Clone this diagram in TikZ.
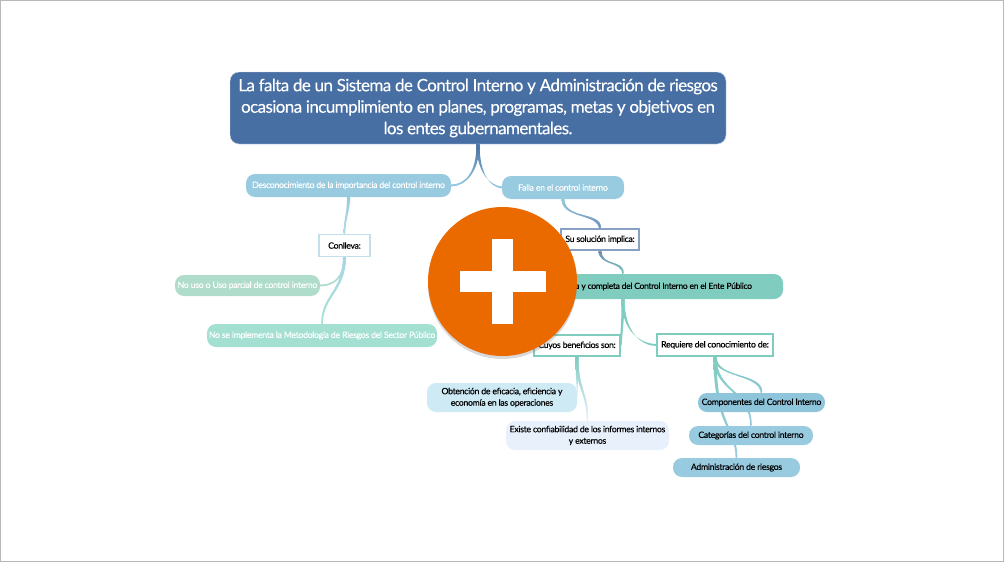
\documentclass[tikz,border=0pt]{standalone}
\usepackage{fontspec}
\setmainfont{Lato}[LetterSpace=-3.5, FakeBold=0.2]
\usetikzlibrary{calc, backgrounds, shadows}
\definecolor{titleblue}{HTML}{476FA3}
\definecolor{skyblue}{HTML}{98CBE0}
\definecolor{deepsky}{HTML}{8FC5DA}
\definecolor{paleblue}{HTML}{CEEAF5}
\definecolor{iceblue}{HTML}{E8F0FC}
\definecolor{sage}{HTML}{B0DCCB}
\definecolor{mint}{HTML}{A3E0D2}
\definecolor{teal}{HTML}{80CCBE}
\definecolor{plusorange}{HTML}{EB6A00}
\tikzset{
  pill/.style={inner sep=0pt, align=center, rounded corners=9pt, font=\fontsize{8.7}{11.5}\selectfont},
  whitepill/.style={pill, text=white},
  labelbox/.style={draw, fill=white, line width=1.3pt, inner sep=0pt, font=\fontsize{8.7}{11}\selectfont},
  branch/.style={draw=none}
}
% tapered connector: from, control offset, control offset, to, end thickness, colours
\newcommand{\branch}[7]{%
  \draw[branch, top color=#6, bottom color=#7]
    ($(#1)+(-1.6,0)$) .. controls ($(#1)+#2+(-1.3,0)$) and ($(#4)+#3-#5$) .. ($(#4)-#5$)
    -- ($(#4)+#5$) .. controls ($(#4)+#3+#5$) and ($(#1)+#2+(1.3,0)$) .. ($(#1)+(1.6,0)$) -- cycle;
}
\begin{document}
\begin{tikzpicture}[x=1pt, y=-1pt]
  \useasboundingbox (0,0) rectangle (1004,562);
  \draw[black!28, line width=1pt] (0.5,0.5) rectangle (1003.5,561.5);

  \node[pill, fill=titleblue, draw=titleblue!25, text=white, minimum width=496pt, minimum height=72pt,
    font=\fontsize{17}{21.5}\selectfont] (title) at (478,108)
    {La falta de un Sistema de Control Interno y Administración de riesgos\\
     ocasiona incumplimiento en planes, programas, metas y objetivos en\\
     los entes gubernamentales.};

  \node[whitepill, fill=skyblue, minimum width=205pt, minimum height=23pt] (desconocimiento) at (348.5,185.5)
    {Desconocimiento de la importancia del control interno};
  \node[whitepill, fill=skyblue, minimum width=122pt, minimum height=23pt] (falla) at (563,187.5)
    {Falla en el control interno};
  \node[labelbox, draw=skyblue!60, minimum width=51pt, minimum height=22pt] (conlleva) at (344.5,245.5) {Conlleva:};
  \node[whitepill, fill=sage, minimum width=145pt, minimum height=21pt] (nouso) at (247.5,285.5)
    {No uso o Uso parcial de control interno};
  \node[whitepill, fill=mint, minimum width=230pt, minimum height=23pt] (noimplementa) at (322,335.5)
    {No se implementa la Metodología de Riesgos del Sector Público};

  \node[labelbox, draw=titleblue!65, minimum width=78pt, minimum height=21pt] (solucion) at (600,239.5) {Su solución implica:};
  \node[pill, fill=teal, minimum height=25pt, inner xsep=31pt, text width=258pt, align=flush right,
    font=\fontsize{8.5}{11}\selectfont] (ente) at (623,286.5)
    {a y completa del Control Interno en el Ente Público};
  \node[labelbox, draw=teal, minimum width=86pt, minimum height=21pt] (beneficios) at (577,345.5) {Cuyos beneficios son:};
  \node[labelbox, draw=teal, minimum width=116pt, minimum height=22pt] (requiere) at (715,345) {Requiere del conocimiento de:};

  \node[pill, fill=paleblue, minimum width=150pt, minimum height=29pt] (eficacia) at (502,397.5)
    {Obtención de eficacia, eficiencia y\\economía en las operaciones};
  \node[pill, fill=iceblue, minimum width=163pt, minimum height=29pt] (confiabilidad) at (587.5,435.5)
    {Existe confiabilidad de los informes internos\\y externos};
  \node[pill, fill=deepsky, minimum width=127pt, minimum height=19pt] (componentes) at (761.5,402.5)
    {Componentes del Control Interno};
  \node[pill, fill=skyblue, minimum width=124pt, minimum height=19pt] (categorias) at (751,435.5)
    {Categorías del control interno};
  \node[pill, fill=skyblue, minimum width=127pt, minimum height=19pt] (riesgos) at (736.5,467.5)
    {Administración de riesgos};

  \begin{scope}[on background layer]
    \branch{title.south}{(0,28)}{(14,0)}{desconocimiento.east}{(0,1)}{titleblue}{skyblue}
    \branch{title.south}{(0,28)}{(-12,-1)}{falla.west}{(0,1)}{titleblue}{skyblue}
    \branch{desconocimiento.south}{(0,16)}{(0,-16)}{conlleva.north}{(0.9,0)}{skyblue}{skyblue!70}
    \branch{conlleva.south}{(0,22)}{(12,0)}{nouso.east}{(0,1)}{skyblue!80}{sage}
    \branch{conlleva.south}{(0,34)}{(0,-28)}{noimplementa.north}{(0.8,0.6)}{skyblue!80}{mint}
    \branch{falla.south}{(0,20)}{(0,-16)}{solucion.north}{(1,-1)}{skyblue}{titleblue!80}
    \branch{solucion.south}{(0,16)}{(0,-14)}{ente.north}{(0.8,-0.8)}{titleblue!80}{teal}
    \branch{ente.south}{(0,20)}{(1,-16)}{beneficios.east}{(1,0)}{teal}{teal}
    \branch{ente.south}{(0,34)}{(-14,0)}{requiere.west}{(0,1)}{teal}{teal}
    \branch{beneficios.south}{(0,24)}{(0,-8)}{eficacia.east}{(0,0.9)}{teal}{paleblue}
    \branch{beneficios.south}{(0,34)}{(0,-30)}{confiabilidad.north}{(0.8,-0.3)}{teal}{iceblue}
    \branch{requiere.south}{(0,22)}{(0,-20)}{componentes.north}{(0.8,-0.8)}{teal}{deepsky}
    \branch{requiere.south}{(0,36)}{(0,-36)}{categorias.north}{(0.8,-0.6)}{teal}{skyblue}
    \branch{requiere.south}{(0,70)}{(0,-30)}{riesgos.north}{(0.9,-0.3)}{teal}{skyblue}
  \end{scope}

  \node[circle, fill=plusorange, minimum size=149pt, inner sep=0pt,
    drop shadow={opacity=0.3, shadow xshift=0pt, shadow yshift=-3pt}] (plus) at (502.5,281.5) {};
  \fill[white] ($(plus.center)+(-43,-10.5)$) rectangle ($(plus.center)+(43,10.5)$);
  \fill[white] ($(plus.center)+(-10.5,-42.5)$) rectangle ($(plus.center)+(10.5,42.5)$);
\end{tikzpicture}
\end{document}
